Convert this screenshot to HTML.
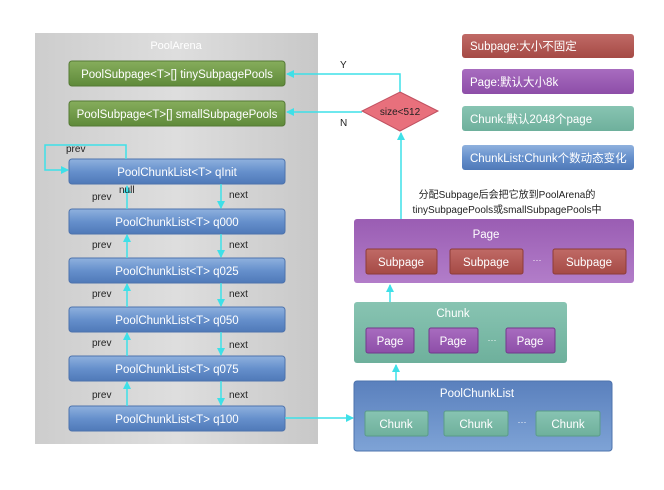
<!DOCTYPE html>
<html><head><meta charset="utf-8"><style>
html,body{margin:0;padding:0;background:#fff;}
svg text{font-family:"Liberation Sans","Noto Sans CJK SC",sans-serif;}
</style></head><body>
<svg width="664" height="485" viewBox="0 0 664 485" xmlns="http://www.w3.org/2000/svg">
<defs>
<linearGradient id="gray" x1="0" y1="0" x2="1" y2="0"><stop offset="0" stop-color="#cdcdcd"/><stop offset="0.5" stop-color="#dedede"/><stop offset="1" stop-color="#c8c8c8"/></linearGradient>
<linearGradient id="blue" x1="0" y1="0" x2="0" y2="1"><stop offset="0" stop-color="#8fb1de"/><stop offset="0.5" stop-color="#6690cc"/><stop offset="1" stop-color="#4f79b8"/></linearGradient>
<linearGradient id="blueBig" x1="0" y1="0" x2="0" y2="1"><stop offset="0" stop-color="#5a80bd"/><stop offset="1" stop-color="#7ea3d6"/></linearGradient>
<linearGradient id="green" x1="0" y1="0" x2="0" y2="1"><stop offset="0" stop-color="#86ad5c"/><stop offset="1" stop-color="#5f8a3a"/></linearGradient>
<linearGradient id="red" x1="0" y1="0" x2="0" y2="1"><stop offset="0" stop-color="#c06a66"/><stop offset="1" stop-color="#a54a45"/></linearGradient>
<linearGradient id="purple" x1="0" y1="0" x2="0" y2="1"><stop offset="0" stop-color="#a86cbf"/><stop offset="1" stop-color="#8d4ea8"/></linearGradient>
<linearGradient id="purpleBig" x1="0" y1="0" x2="0" y2="1"><stop offset="0" stop-color="#9a5db3"/><stop offset="1" stop-color="#b27dc9"/></linearGradient>
<linearGradient id="teal" x1="0" y1="0" x2="0" y2="1"><stop offset="0" stop-color="#88c4b2"/><stop offset="1" stop-color="#6eb09c"/></linearGradient>
<marker id="ah" markerWidth="8" markerHeight="8" refX="7" refY="4" orient="auto" markerUnits="userSpaceOnUse"><path d="M0,0 L8,4 L0,8 z" fill="#3ee0e8"/></marker>
</defs>

<rect x="35" y="33" width="283" height="411" fill="url(#gray)"/>
<text x="176" y="49" font-size="11" fill="#fff" text-anchor="middle">PoolArena</text>

<g font-size="11.5" fill="#fff" text-anchor="middle">
<rect x="69" y="61" width="216" height="25" rx="3" fill="url(#green)" stroke="#557a35"/>
<text x="177" y="78">PoolSubpage&lt;T&gt;[] tinySubpagePools</text>
<rect x="69" y="101" width="216" height="25" rx="3" fill="url(#green)" stroke="#557a35"/>
<text x="177" y="118">PoolSubpage&lt;T&gt;[] smallSubpagePools</text>

<rect x="69" y="159" width="216" height="25" rx="3" fill="url(#blue)" stroke="#4d73ad"/>
<text x="177" y="176">PoolChunkList&lt;T&gt; qInit</text>
<rect x="69" y="209" width="216" height="25" rx="3" fill="url(#blue)" stroke="#4d73ad"/>
<text x="177" y="226">PoolChunkList&lt;T&gt; q000</text>
<rect x="69" y="258" width="216" height="25" rx="3" fill="url(#blue)" stroke="#4d73ad"/>
<text x="177" y="275">PoolChunkList&lt;T&gt; q025</text>
<rect x="69" y="307" width="216" height="25" rx="3" fill="url(#blue)" stroke="#4d73ad"/>
<text x="177" y="324">PoolChunkList&lt;T&gt; q050</text>
<rect x="69" y="356" width="216" height="25" rx="3" fill="url(#blue)" stroke="#4d73ad"/>
<text x="177" y="373">PoolChunkList&lt;T&gt; q075</text>
<rect x="69" y="406" width="216" height="25" rx="3" fill="url(#blue)" stroke="#4d73ad"/>
<text x="177" y="423">PoolChunkList&lt;T&gt; q100</text>
</g>

<g stroke="#3ee0e8" stroke-width="1.5" fill="none">
<path d="M126,159 V145 H45 V170 H68" marker-end="url(#ah)"/>
<path d="M127,209 V186" marker-end="url(#ah)"/>
<path d="M221,184 V208" marker-end="url(#ah)"/>
<path d="M127,258 V235" marker-end="url(#ah)"/>
<path d="M221,234 V257" marker-end="url(#ah)"/>
<path d="M127,307 V284" marker-end="url(#ah)"/>
<path d="M221,283 V306" marker-end="url(#ah)"/>
<path d="M127,356 V333" marker-end="url(#ah)"/>
<path d="M221,332 V355" marker-end="url(#ah)"/>
<path d="M127,406 V382" marker-end="url(#ah)"/>
<path d="M221,381 V405" marker-end="url(#ah)"/>
<path d="M285,418 H353" marker-end="url(#ah)"/>
<path d="M400,92 V74 H287" marker-end="url(#ah)"/>
<path d="M362,112 H287" marker-end="url(#ah)"/>
<path d="M401,249 V133" marker-end="url(#ah)"/>
<path d="M390,328 V285" marker-end="url(#ah)"/>
<path d="M396,411 V365" marker-end="url(#ah)"/>
</g>

<g font-size="10" fill="#222">
<text x="66" y="152">prev</text>
<text x="92" y="200">prev</text><text x="119" y="193">null</text><text x="229" y="198">next</text>
<text x="92" y="248">prev</text><text x="229" y="248">next</text>
<text x="92" y="297">prev</text><text x="229" y="297">next</text>
<text x="92" y="346">prev</text><text x="229" y="348">next</text>
<text x="92" y="398">prev</text><text x="229" y="398">next</text>
<text x="340" y="68">Y</text>
<text x="340" y="126">N</text>
<text x="507" y="198" text-anchor="middle">分配Subpage后会把它放到PoolArena的</text>
<text x="507" y="213" text-anchor="middle">tinySubpagePools或smallSubpagePools中</text>
</g>

<polygon points="400,92 438,111 400,131 362,111" fill="#e8707c" stroke="#c05060"/>
<text x="400" y="115" font-size="10" fill="#222" text-anchor="middle">size&lt;512</text>

<g font-size="11.5" fill="#fff">
<rect x="462" y="34" width="172" height="24" rx="3" fill="url(#red)"/>
<text x="470" y="50">Subpage:大小不固定</text>
<rect x="462" y="69" width="172" height="25" rx="3" fill="url(#purple)"/>
<text x="470" y="86">Page:默认大小8k</text>
<rect x="462" y="106" width="172" height="25" rx="3" fill="url(#teal)"/>
<text x="470" y="123">Chunk:默认2048个page</text>
<rect x="462" y="145" width="172" height="25" rx="3" fill="url(#blue)"/>
<text x="470" y="162">ChunkList:Chunk个数动态变化</text>
</g>

<g font-size="11.5" fill="#fff" text-anchor="middle">
<rect x="354" y="219" width="280" height="64" rx="3" fill="url(#purpleBig)"/>
<text x="486" y="238">Page</text>
<rect x="366" y="249" width="71" height="25" rx="2" fill="url(#red)" stroke="#8d3c38"/>
<text x="401" y="266">Subpage</text>
<rect x="450" y="249" width="73" height="25" rx="2" fill="url(#red)" stroke="#8d3c38"/>
<text x="486" y="266">Subpage</text>
<text x="537" y="263" font-size="9">···</text>
<rect x="553" y="249" width="73" height="25" rx="2" fill="url(#red)" stroke="#8d3c38"/>
<text x="589" y="266">Subpage</text>

<rect x="354" y="302" width="213" height="61" rx="3" fill="url(#teal)"/>
<text x="453" y="317">Chunk</text>
<rect x="366" y="328" width="48" height="25" rx="2" fill="url(#purple)" stroke="#73398c"/>
<text x="390" y="345">Page</text>
<rect x="429" y="328" width="49" height="25" rx="2" fill="url(#purple)" stroke="#73398c"/>
<text x="453" y="345">Page</text>
<text x="492" y="343" font-size="9">···</text>
<rect x="506" y="328" width="49" height="25" rx="2" fill="url(#purple)" stroke="#73398c"/>
<text x="530" y="345">Page</text>

<rect x="354" y="381" width="258" height="70" rx="3" fill="url(#blueBig)" stroke="#4d73ad"/>
<text x="477" y="397">PoolChunkList</text>
<rect x="365" y="411" width="63" height="25" rx="2" fill="url(#teal)" stroke="#5a9c88"/>
<text x="396" y="428">Chunk</text>
<rect x="444" y="411" width="64" height="25" rx="2" fill="url(#teal)" stroke="#5a9c88"/>
<text x="476" y="428">Chunk</text>
<text x="522" y="425" font-size="9">···</text>
<rect x="536" y="411" width="64" height="25" rx="2" fill="url(#teal)" stroke="#5a9c88"/>
<text x="568" y="428">Chunk</text>
</g>
</svg>
</body></html>
